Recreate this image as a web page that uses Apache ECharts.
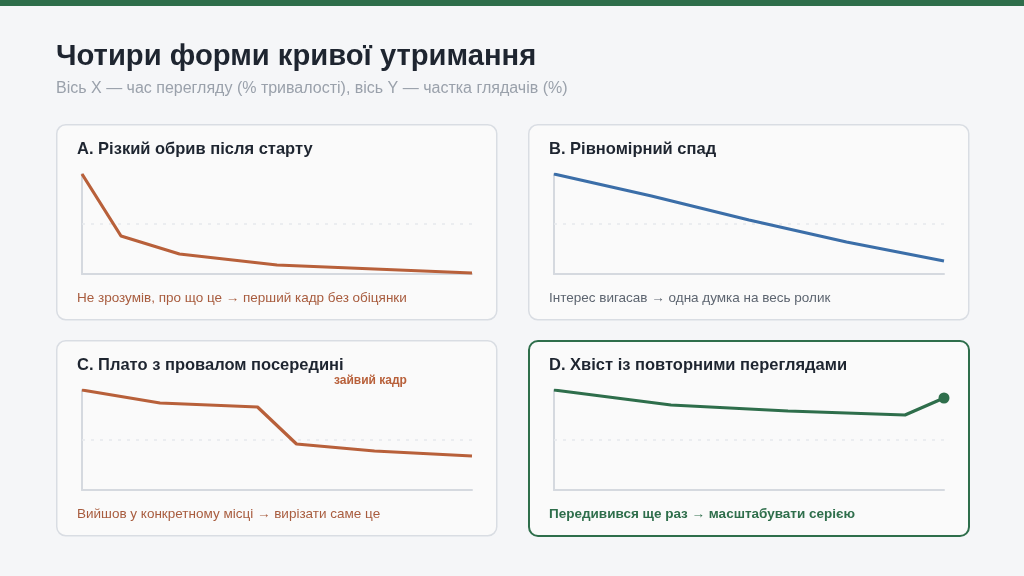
<!DOCTYPE html>
<html>
<head>
<meta charset="utf-8">
<script src="https://cdn.jsdelivr.net/npm/echarts@6/dist/echarts.min.js"></script>
<style>
html,body{margin:0;padding:0;background:#f5f6f8;}
#c{width:1024px;height:576px;}
</style>
</head>
<body>
<div id="c"></div>
<script>
// ---- data ----
const mainTitle = 'Чотири форми кривої утримання';
const subTitle = 'Вісь X — час перегляду (% тривалості), вісь Y — частка глядачів (%)';
const panelTitles = ['A. Різкий обрив після старту', 'B. Рівномірний спад', 'C. Плато з провалом посередині', 'D. Хвіст із повторними переглядами'];
const panelNotes = ['Не зрозумів, про що це → перший кадр без обіцянки', 'Інтерес вигасав → одна думка на весь ролик', 'Вийшов у конкретному місці → вирізати саме це', 'Передивився ще раз → масштабувати серією'];
const dipLabel = 'зайвий кадр';
const xA = [0, 10, 25, 50, 75, 100];
const yA = [100, 38, 20, 9, 5, 1];
const xB = [0, 25, 50, 75, 100];
const yB = [100, 78, 54, 32, 13];
const xC = [0, 20, 45, 55, 75, 100];
const yC = [100, 87, 83, 46, 39, 34];
const xD = [0, 30, 60, 90, 100];
const yD = [100, 85, 79, 75, 92];
const refLevel = 50;

// ---- styles ----
const FONT = '"Liberation Sans", Arial, sans-serif';
const ORANGE = '#b8603a';
const BLUE = '#3b6ea8';
const GREEN = '#2e6e4b';
const colors = [ORANGE, BLUE, ORANGE, GREEN];
const noteColors = ['#a85c3e', '#5d6570', '#a85c3e', GREEN];
const cards = [
  {x: 56, y: 124, w: 440, h: 195},
  {x: 528, y: 124, w: 440, h: 195},
  {x: 56, y: 340, w: 440, h: 195},
  {x: 528, y: 340, w: 440, h: 195}
];
const grids = [
  {left: 82, top: 174, width: 390, height: 100},
  {left: 554, top: 174, width: 390, height: 100},
  {left: 82, top: 390, width: 390, height: 100},
  {left: 554, top: 390, width: 390, height: 100}
];
const xs = [xA, xB, xC, xD];
const ys = [yA, yB, yC, yD];

const graphic = [
  {type: 'rect', left: 0, top: 0, shape: {width: 1024, height: 6}, style: {fill: GREEN}, z: -1},
  {type: 'text', left: 56, top: 42, style: {text: mainTitle, font: 'bold 29.2px ' + FONT, fill: '#1e2530'}},
  {type: 'text', left: 56, top: 81, style: {text: subTitle, font: '16px ' + FONT, fill: '#9aa1ab'}}
];
cards.forEach((c, i) => {
  graphic.push({
    type: 'rect', left: c.x, top: c.y, z: -1,
    shape: {width: c.w, height: c.h, r: 9},
    style: {fill: '#fafafa', stroke: i === 3 ? GREEN : '#d9dde3', lineWidth: i === 3 ? 2 : 1.5}
  });
  graphic.push({
    type: 'text', left: c.x + 21, top: c.y + 17,
    style: {text: panelTitles[i], font: 'bold 16.5px ' + FONT, fill: '#1e2530'}
  });
  graphic.push({
    type: 'text', left: c.x + 21, top: c.y + 167,
    style: {text: panelNotes[i], font: (i === 3 ? 'bold ' : '') + '13.5px ' + FONT, fill: noteColors[i]}
  });
});
graphic.push({
  type: 'text', left: 334, top: 375,
  style: {text: dipLabel, font: 'bold 12px ' + FONT, fill: ORANGE}
});

const option = {
  backgroundColor: '#f5f6f8',
  animation: false,
  graphic: graphic,
  grid: grids,
  xAxis: grids.map((g, i) => ({
    type: 'value', gridIndex: i, min: 0, max: 100,
    axisLine: {show: true, lineStyle: {color: '#d5d9df', width: 2}},
    axisTick: {show: false}, axisLabel: {show: false}, splitLine: {show: false}
  })),
  yAxis: grids.map((g, i) => ({
    type: 'value', gridIndex: i, min: 0, max: 100,
    axisLine: {show: true, lineStyle: {color: '#d5d9df', width: 2}},
    axisTick: {show: false}, axisLabel: {show: false}, splitLine: {show: false}
  })),
  series: grids.map((g, i) => ({
    type: 'line', xAxisIndex: i, yAxisIndex: i,
    data: xs[i].map((x, k) => [x, ys[i][k]]),
    lineStyle: {color: colors[i], width: 3.2},
    itemStyle: {color: colors[i]},
    symbol: 'circle',
    symbolSize: (v, p) => (i === 3 && p.dataIndex === xs[i].length - 1) ? 11 : 0,
    showSymbol: true,
    z: 3,
    markLine: {
      silent: true, symbol: 'none', label: {show: false},
      lineStyle: {color: '#e6e9ed', type: [3, 6], width: 1.5},
      data: [{yAxis: refLevel}],
      z: 1
    }
  }))
};
const chart = echarts.init(document.getElementById('c'), null, {renderer: 'canvas'});
chart.setOption(option);
</script>
</body>
</html>
